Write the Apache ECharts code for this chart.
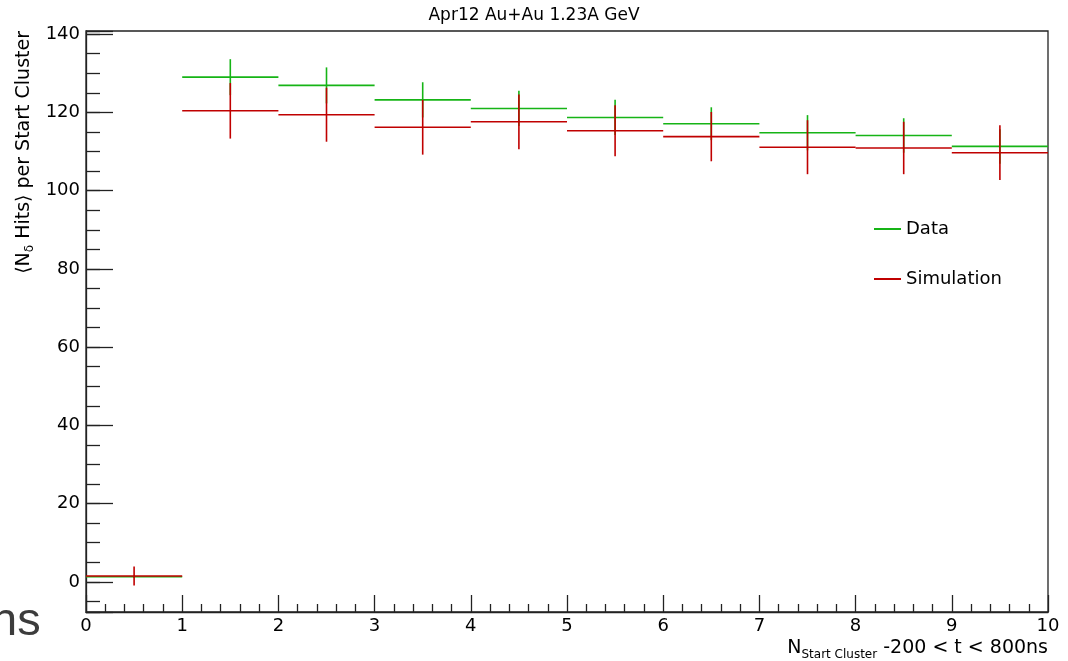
<!DOCTYPE html>
<html>
<head>
<meta charset="utf-8">
<script src="https://cdn.jsdelivr.net/npm/echarts@6/dist/echarts.min.js"></script>
<style>
  html, body { margin: 0; padding: 0; background: #fff; }
  #chart { width: 1068px; height: 661px; }
</style>
</head>
<body>
<div id="chart"></div>
<script>
// Bins of N_Start Cluster: lower and upper edges
const binLow  = [0, 1, 2, 3, 4, 5, 6, 7, 8, 9];
const binHigh = [1, 2, 3, 4, 5, 6, 7, 8, 9, 10];

// Mean number of delta hits per start cluster, with errors
const dataValues = [1.3, 129.0, 126.9, 123.2, 121.0, 118.7, 117.1, 114.8, 114.1, 111.3];
const dataErrors = [0.3, 4.6, 4.6, 4.5, 4.5, 4.5, 4.2, 4.5, 4.4, 4.4];
const simValues  = [1.5, 120.4, 119.4, 116.2, 117.6, 115.3, 113.8, 111.1, 110.9, 109.7];
const simErrors  = [2.4, 7.1, 6.9, 7.0, 7.0, 6.5, 6.3, 6.9, 6.7, 7.0];

// Axis settings
const xMin = 0, xMax = 10, xStep = 1;
const yMin = -7.7, yMax = 140.8, yMajor = 20, yMinor = 5;

const FONT = 'DejaVu Sans';
const GREEN = '#16b416';
const RED = '#c00000';

function rows(vals, errs) {
  return binLow.map((lo, i) => [lo, binHigh[i], vals[i], errs[i]]);
}

// Each bin: a horizontal line across the bin plus a vertical error bar at its centre
function renderBin(params, api) {
  const lo = api.value(0), hi = api.value(1), v = api.value(2), e = api.value(3);
  const c = (lo + hi) / 2;
  const pl = api.coord([lo, v]);
  const pr = api.coord([hi, v]);
  const pt = api.coord([c, v + e]);
  const pb = api.coord([c, v - e]);
  const color = api.visual('color');
  const style = { stroke: color, lineWidth: 1.6 };
  return {
    type: 'group',
    children: [
      { type: 'line', shape: { x1: pl[0], y1: pl[1], x2: pr[0], y2: pr[1] }, style: style },
      { type: 'line', shape: { x1: pt[0], y1: pt[1], x2: pb[0], y2: pb[1] }, style: style }
    ]
  };
}

const chart = echarts.init(document.getElementById('chart'), null, { renderer: 'canvas' });

const tickLine = { color: '#222', width: 1.3 };

const option = {
  animation: false,
  backgroundColor: '#ffffff',
  title: {
    text: 'Apr12 Au+Au 1.23A GeV',
    left: 'center',
    top: 2,
    textStyle: { fontFamily: FONT, fontSize: 17, fontWeight: 'normal', color: '#000' }
  },
  grid: {
    left: 86, right: 20, top: 31, bottom: 49,
    show: true, borderColor: '#222', borderWidth: 1.3, backgroundColor: 'transparent'
  },
  legend: {
    orient: 'vertical',
    left: 869,
    top: 214,
    itemWidth: 27,
    itemHeight: 2,
    itemGap: 30,
    icon: 'rect',
    selectedMode: false,
    textStyle: { fontFamily: FONT, fontSize: 18, color: '#000', lineHeight: 20 },
    data: ['Data', 'Simulation']
  },
  xAxis: {
    type: 'value',
    min: xMin, max: xMax, interval: xStep,
    axisLine: { show: true, onZero: false, lineStyle: tickLine },
    axisTick: { show: true, inside: true, length: 17, lineStyle: tickLine },
    minorTick: { show: true, splitNumber: 5, length: 8, lineStyle: tickLine },
    axisLabel: { fontFamily: FONT, fontSize: 18, color: '#000', margin: 5 },
    splitLine: { show: false }
  },
  yAxis: [
    {
      type: 'value',
      position: 'left',
      min: yMin, max: yMax,
      minInterval: yMajor, maxInterval: yMajor,
      axisLine: { show: true, onZero: false, lineStyle: tickLine },
      axisTick: { show: true, inside: true, length: 27, lineStyle: tickLine },
      axisLabel: {
        fontFamily: FONT, fontSize: 18, color: '#000', margin: 6,
        formatter: v => (Math.abs(v % yMajor) < 1e-9 ? String(v) : '')
      },
      splitLine: { show: false }
    },
    {
      // minor ticks every 5 units along the same left edge
      type: 'value',
      position: 'left',
      offset: 0,
      min: yMin, max: yMax,
      minInterval: yMinor, maxInterval: yMinor,
      axisLine: { show: false, onZero: false },
      axisTick: { show: true, inside: true, length: 14, lineStyle: tickLine },
      axisLabel: { show: false },
      splitLine: { show: false }
    }
  ],
  series: [
    {
      name: 'Data',
      type: 'custom',
      renderItem: renderBin,
      itemStyle: { color: GREEN },
      encode: { x: [0, 1], y: 2 },
      data: rows(dataValues, dataErrors),
      z: 2
    },
    {
      name: 'Simulation',
      type: 'custom',
      renderItem: renderBin,
      itemStyle: { color: RED },
      encode: { x: [0, 1], y: 2 },
      data: rows(simValues, simErrors),
      z: 3
    }
  ],
  graphic: [
    {
      type: 'text',
      x: 24, y: 31,
      rotation: Math.PI / 2,
      style: {
        text: '{a|⟨N}{s|δ}{a| Hits⟩ per Start Cluster}',
        align: 'right',
        verticalAlign: 'middle',
        rich: {
          a: { fontFamily: FONT, fontSize: 19, fill: '#000', lineHeight: 22 },
          s: { fontFamily: FONT, fontSize: 12, fill: '#000', lineHeight: 22, padding: [12, 0, 0, 0] }
        }
      }
    },
    {
      type: 'text',
      x: 1048, y: 648,
      style: {
        text: '{m|N}{s|Start Cluster}{m| -200 < t < 800ns}',
        align: 'right',
        verticalAlign: 'middle',
        rich: {
          m: { fontFamily: FONT, fontSize: 19, fill: '#000', lineHeight: 22 },
          s: { fontFamily: FONT, fontSize: 12, fill: '#000', lineHeight: 22, padding: [14, 0, 0, 0] }
        }
      }
    },
    {
      type: 'text',
      x: -9, y: 622,
      style: {
        text: 'ns',
        fontFamily: 'Liberation Sans',
        fontSize: 47,
        fill: '#3c3c3c',
        align: 'left',
        verticalAlign: 'middle'
      }
    }
  ]
};

chart.setOption(option);
</script>
</body>
</html>
